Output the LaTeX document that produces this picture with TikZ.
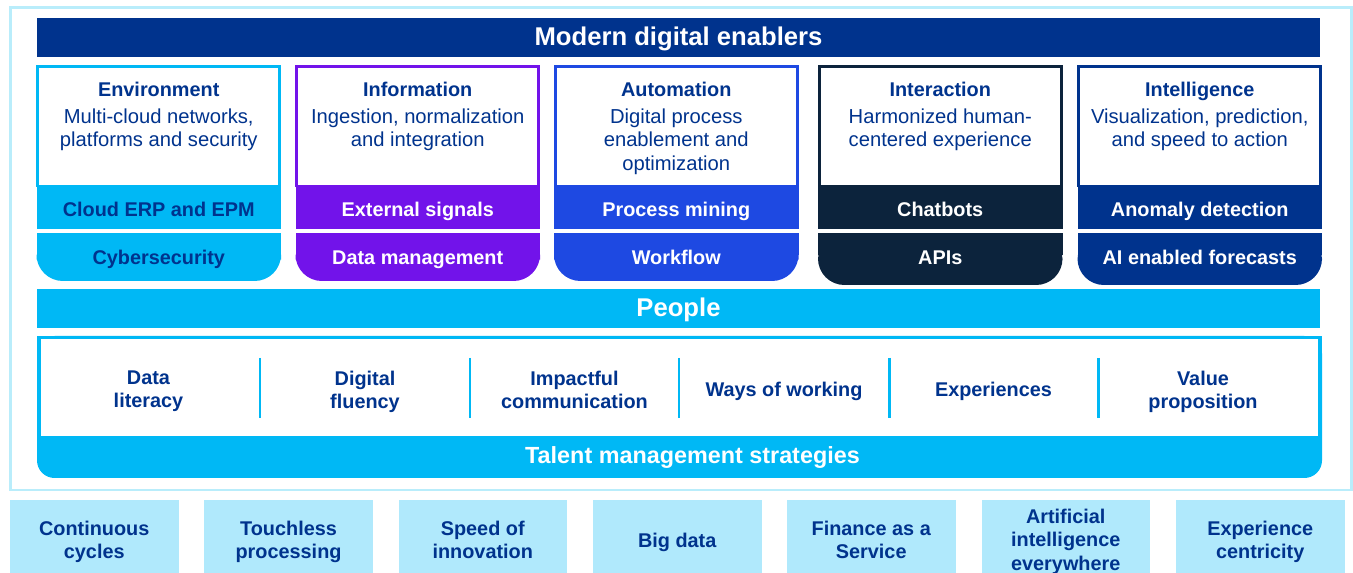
\documentclass[tikz,border=0pt]{standalone}
\usepackage{fontspec}
\setmainfont{Liberation Sans}
\usetikzlibrary{positioning}
\definecolor{kdark}{HTML}{00338D}
\definecolor{kcyan}{HTML}{00B8F5}
\definecolor{kpurple}{HTML}{7213EA}
\definecolor{kblue}{HTML}{1E49E2}
\definecolor{knavy}{HTML}{0C233C}
\definecolor{kpale}{HTML}{B0E9FC}
\definecolor{kframe}{HTML}{B9EDFB}
\tikzset{
  lbl/.style={inner sep=0pt, align=center, font={\fontsize{11.3}{13.2}\selectfont\bfseries}, text=kdark},
  desc/.style={inner sep=0pt, align=center, font={\fontsize{11.5}{13.2}\selectfont}, text=kdark},
  banner/.style={inner sep=0pt, anchor=base, font={\fontsize{14.6}{16}\selectfont\bfseries}, text=white},
  divider/.style={kcyan, line width=1.7pt},
}
\begin{document}
\begin{tikzpicture}[x=0.02cm, y=-0.02cm]
\useasboundingbox (0,0) rectangle (1353,573);
\draw[kframe, line width=1.7pt] (10.5,7.5) rectangle (1351,490);
\fill[kdark] (37,18) rectangle (1320,57);
\node[banner] (enablers) at (678.5,46) {Modern digital enablers};
\foreach \x/\col/\tc/\yb/\ttl/\dsc/\ba/\bb [count=\i] in {
  36.5/kcyan/kdark/281/Environment/{Multi-cloud networks,\\platforms and security}/{Cloud ERP and EPM}/Cybersecurity,
  295.5/kpurple/white/281/Information/{Ingestion, normalization\\and integration}/{External signals}/{Data management},
  554/kblue/white/281/Automation/{Digital process\\enablement and\\optimization}/{Process mining}/Workflow,
  818/knavy/white/285/Interaction/{Harmonized human-\\centered experience}/Chatbots/APIs,
  1077.5/kdark/white/285/Intelligence/{Visualization, prediction,\\and speed to action}/{Anomaly detection}/{AI enabled forecasts}}
{
  \draw[\col, line width=1.5pt, fill=white] (\x+1.3,66.6) rectangle (\x+243.2,186);
  \fill[\col] (\x,185) rectangle (\x+244.5,229);
  \fill[\col, rounded corners=15] (\x,233.3) rectangle (\x+244.5,\yb);
  \fill[\col] (\x,233.3) rectangle (\x+244.5,255);
  \node[lbl, anchor=base] (ttl\i) at (\x+122.25,96.5) {\ttl};
  \node[desc, anchor=north] (dsc\i) at (\x+122.25,108.8) {\dsc};
  \node[lbl, anchor=base, text=\tc] (ba\i) at (\x+122.25,216.5) {\ba};
  \node[lbl, anchor=base, text=\tc] (bb\i) at (\x+122.25,265) {\bb};
}
\fill[kcyan] (37,289.3) rectangle (1320,327.7);
\node[banner] (people) at (678.5,316.5) {People};
\fill[kcyan, rounded corners=10] (37,336) rectangle (1322,478);
\fill[kcyan] (37,336) rectangle (1322,450);
\fill[white] (41,339.5) rectangle (1317.5,436);
\node[banner, font={\fontsize{13.3}{15}\selectfont\bfseries}] (talent) at (692.5,463.3) {Talent management strategies};
\foreach \d in {260,470,679,889,1098}
  \draw[divider] (\d,358) -- (\d,418);
\foreach \cx/\yt/\txt [count=\i] in {148.5/370.6/{Data\\literacy}, 365/370.6/{Digital\\fluency},
  574.5/370.6/{Impactful\\communication}, 784/382/{Ways of working}, 993.5/382/Experiences,
  1203/370.6/{Value\\proposition}}
  \node[lbl, anchor=north] (skill\i) at (\cx,\yt) {\txt};
\foreach \bx/\yt/\txt [count=\i] in {10/520.7/{Continuous\\cycles}, 204.3/520.7/{Touchless\\processing},
  398.5/520.7/{Speed of\\innovation}, 593/532.3/{Big data}, 787/520.7/{Finance as a\\Service},
  981.5/509/{Artificial\\intelligence\\everywhere}, 1176/520.7/{Experience\\centricity}}
{
  \fill[kpale] (\bx,500) rectangle (\bx+168.5,573);
  \node[lbl, anchor=north] (trend\i) at (\bx+84.25,\yt) {\txt};
}
\end{tikzpicture}
\end{document}
